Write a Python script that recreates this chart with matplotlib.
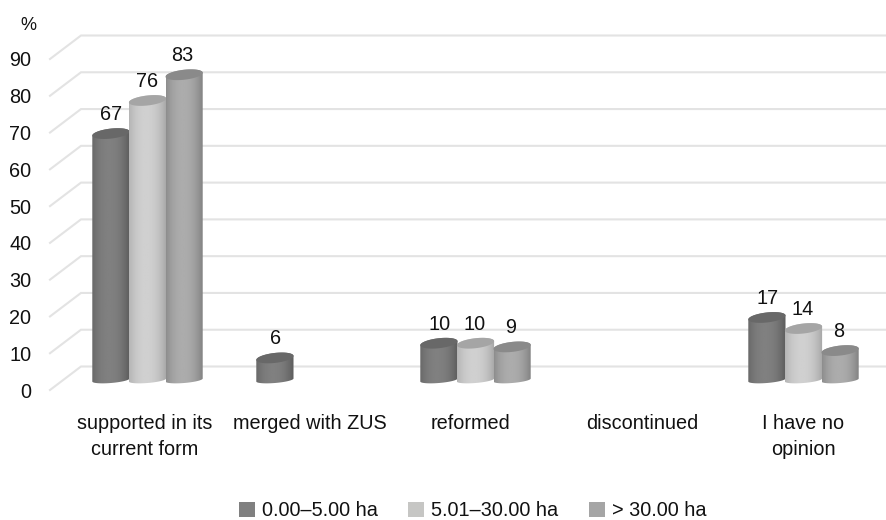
import numpy as np
import matplotlib
matplotlib.use("Agg")
import matplotlib.pyplot as plt
from matplotlib.patches import Patch, PathPatch
from matplotlib.path import Path
from matplotlib.transforms import ScaledTranslation

plt.rcParams['font.family'] = ['Liberation Sans', 'DejaVu Sans']

categories = ["supported in its\ncurrent form", "merged with ZUS", "reformed", "discontinued", "I have no\nopinion"]
series_names = ["0.00–5.00 ha", "5.01–30.00 ha", "> 30.00 ha"]
small = [67, 6, 10, None, 17]
medium = [76, None, 10, None, 14]
large = [83, None, 9, None, 8]
y_ticks = [0, 10, 20, 30, 40, 50, 60, 70, 80, 90]

legend_colors = ["#808080", "#c6c6c4", "#a5a5a5"]
shades = [(92, 128, 104), (165, 208, 165), (125, 172, 138)]  # edge, centre, cap
FS = 14.3
INK = "#111111"

W, H = 886, 520
fig = plt.figure(figsize=(W / 100, H / 100), dpi=100)
L, R, B, T = 50, 886, 390, 59   # pixels
ax = fig.add_axes([L / W, 1 - B / H, (R - L) / W, (B - T) / H])
PX0, PXS = 147.5, 164.0
x0, x1 = (L - PX0) / PXS, (R - PX0) / PXS
UY = 90 / (B - T)   # data per px vertical
UX = 1 / PXS

for s in ax.spines.values():
    s.set_visible(False)
ax.patch.set_alpha(0)

# walls: slanted side + back gridlines
depth_x, depth_y = 31 * UX, 23.5 * UY
for v in y_ticks:
    ax.plot([x0, x0 + depth_x, x1], [v, v + depth_y, v + depth_y], color="#e3e3e3", lw=1.5,
            zorder=1, clip_on=False, solid_joinstyle="miter")

ax.set_yticks(y_ticks)
ax.tick_params(axis="y", length=0, pad=13.5, labelsize=FS)
ax.tick_params(axis="x", length=0, pad=17, labelsize=FS)
label_px = [144.5, 309.5, 471, 642, 803]
ax.set_xticks([(p - PX0) / PXS for p in label_px])
ax.set_xticklabels(categories, linespacing=1.5)
for t in ax.get_xticklabels() + ax.get_yticklabels():
    t.set_color(INK)

fig.text(28 / W, 1 - 26 / H, "%", ha="center", va="center", fontsize=13, color=INK)

base_off = (B - 380) * UY   # bars stand this far above the front edge
bar_w = 37.2 * UX
bar_step = 36.6 * UX
a = bar_w / 2
b_top, tilt_top = 5.0 * UY, 2.0 * UY
b_bot, tilt_bot = 3.0 * UY, 1.5 * UY


def ell(cx, cy, t, b, tilt):
    return cx + a * np.cos(t), cy + b * np.sin(t) + tilt * np.cos(t)


def cylinder(cx, value, shade, z, label_dx):
    top = value + base_off
    edge, mid, cap = shade
    t_up = np.linspace(0, np.pi, 60)
    t_down = np.linspace(np.pi, 2 * np.pi, 60)
    xb, yb = ell(cx, base_off, t_down, b_bot, tilt_bot)
    xt, yt = ell(cx, top, t_up, b_top, tilt_top)
    verts = np.column_stack([np.r_[xb, xt], np.r_[yb, yt]])
    verts = np.vstack([verts, verts[0]])
    codes = [Path.MOVETO] + [Path.LINETO] * (len(verts) - 2) + [Path.CLOSEPOLY]
    body = PathPatch(Path(verts, codes), fc="none", ec="none", zorder=z)
    ax.add_patch(body)
    u = np.linspace(-1, 1, 64)
    g = edge + (mid - edge) * (1 - (np.abs(u + 0.1) / 1.1) ** 2.2)
    im = ax.imshow(np.clip(g, 0, 255)[None, :], cmap="gray", vmin=0, vmax=255, aspect="auto",
                   extent=(cx - a, cx + a, base_off - 8 * UY, top + 8 * UY),
                   zorder=z, interpolation="bilinear")
    im.set_clip_path(body)
    tt = np.linspace(0, 2 * np.pi, 80)
    xc, yc = ell(cx, top, tt, b_top, tilt_top)
    c = cap / 255
    ax.fill(xc, yc, color=(c, c, c), zorder=z + 0.1, lw=0)
    ax.text(cx, top, str(value), ha="center", va="center", fontsize=FS, color=INK, zorder=z + 1,
            transform=ax.transData + ScaledTranslation(label_dx / 100, 19 / 100, fig.dpi_scale_trans))


for i in range(len(categories)):
    for j, series in enumerate([small, medium, large]):
        if series[i] is not None:
            cylinder(i + (j - 1) * bar_step, series[i], shades[j], 3 + j * 0.5, 0.5 - 1.2 * j)

ax.set_ylim(0, 90)
ax.set_xlim(x0, x1)

handles = [Patch(fc=c, ec="none") for c in legend_colors]
fig.legend(handles, series_names, ncol=3, frameon=False, loc="center",
           bbox_to_anchor=(472.5 / W, 1 - 511 / H), fontsize=FS, handlelength=0.8, handleheight=0.8,
           handletextpad=0.35, columnspacing=1.55, labelcolor=INK)

fig.savefig("out.png", dpi=100, facecolor="white")
